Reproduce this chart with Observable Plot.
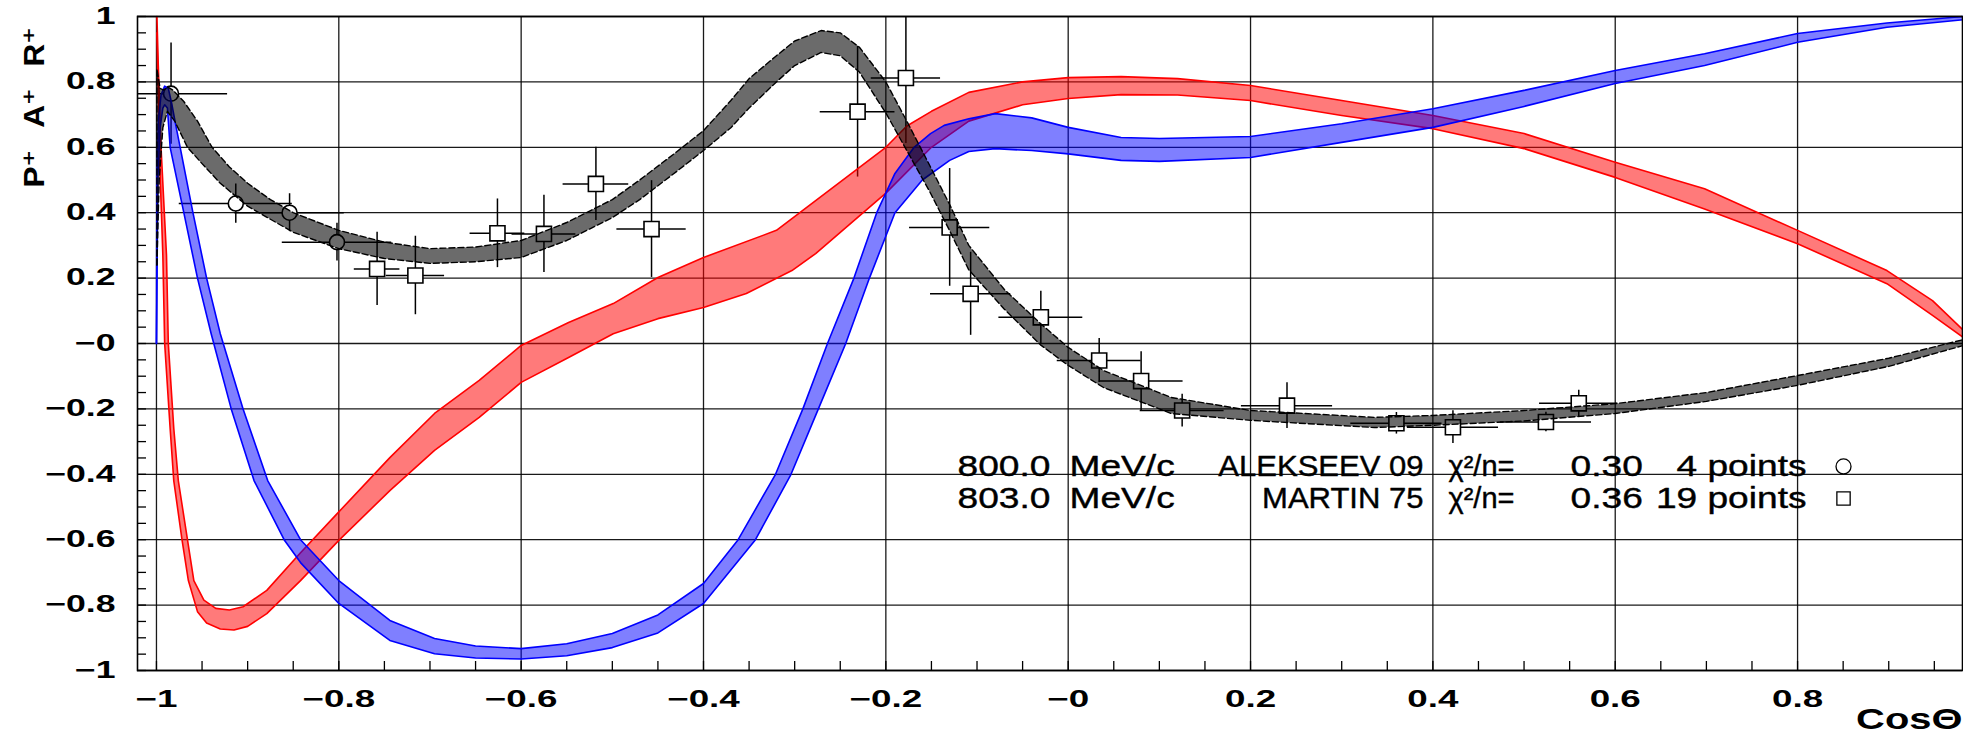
<!DOCTYPE html>
<html>
<head>
<meta charset="utf-8">
<script src="https://cdn.jsdelivr.net/npm/d3@7"></script>
<script src="https://cdn.jsdelivr.net/npm/@observablehq/plot@0.6"></script>
<style>
  html, body { margin: 0; padding: 0; background: #fff; }
  #chart svg { display: block; }
</style>
</head>
<body>
<div id="chart"></div>
<script>
// ---------- tick labels ----------
const xTicks = [-1, -0.8, -0.6, -0.4, -0.2, 0, 0.2, 0.4, 0.6, 0.8];
const xTickLabels = ["−1", "−0.8", "−0.6", "−0.4", "−0.2", "−0", "0.2", "0.4", "0.6", "0.8"];
const yTicks = [1, 0.8, 0.6, 0.4, 0.2, 0, -0.2, -0.4, -0.6, -0.8, -1];
const yTickLabels = ["1", "0.8", "0.6", "0.4", "0.2", "−0", "−0.2", "−0.4", "−0.6", "−0.8", "−1"];
const xTitle = "CosΘ";
const yTitle = "P⁺\u2002\u2009A⁺\u2002\u2009R⁺";

// ---------- data points: MARTIN 75 (squares) ----------
const sqX    = [-0.758, -0.716, -0.626, -0.575, -0.518, -0.457, -0.231, -0.178, -0.130, -0.107, -0.030, 0.034, 0.080, 0.125, 0.240, 0.360, 0.422, 0.524, 0.560];
const sqY    = [0.228, 0.208, 0.337, 0.335, 0.488, 0.350, 0.709, 0.812, 0.355, 0.152, 0.080, -0.052, -0.115, -0.205, -0.190, -0.244, -0.256, -0.240, -0.183];
const sqXErr = [0.025, 0.032, 0.030, 0.035, 0.036, 0.038, 0.041, 0.038, 0.044, 0.044, 0.046, 0.046, 0.046, 0.046, 0.050, 0.050, 0.050, 0.050, 0.043];
const sqYErr = [0.112, 0.120, 0.105, 0.118, 0.112, 0.148, 0.200, 0.200, 0.180, 0.127, 0.080, 0.067, 0.090, 0.050, 0.070, 0.033, 0.050, 0.030, 0.040];

// ---------- data points: ALEKSEEV 09 (circles) ----------
const ciX    = [-0.984, -0.913, -0.854, -0.802];
const ciY    = [0.764, 0.428, 0.400, 0.310];
const ciXErr = [0.062, 0.062, 0.060, 0.060];
const ciYErr = [0.155, 0.060, 0.058, 0.058];

// ---------- bands (upper edge, lower edge) ----------
const redTop = [[-0.9995,1.0],[-0.998,0.85],[-0.995,0.6],[-0.989,0.27],[-0.987,0.0],[-0.981,-0.26],[-0.976,-0.42],[-0.966,-0.6],[-0.959,-0.725],[-0.948,-0.785],[-0.935,-0.81],[-0.92,-0.815],[-0.905,-0.805],[-0.879,-0.755],[-0.842,-0.64],[-0.8,-0.515],[-0.744,-0.349],[-0.695,-0.214],[-0.646,-0.113],[-0.6,-0.006],[-0.548,0.064],[-0.499,0.122],[-0.45,0.202],[-0.4,0.263],[-0.32,0.346],[-0.277,0.437],[-0.2,0.6],[-0.177,0.665],[-0.15,0.71],[-0.109,0.768],[-0.05,0.80],[0,0.813],[0.058,0.816],[0.12,0.81],[0.2,0.789],[0.3,0.743],[0.4,0.697],[0.5,0.642],[0.6,0.554],[0.698,0.473],[0.8,0.346],[0.898,0.223],[0.948,0.131],[0.982,0.04]];
const redBottom = [[-0.9995,0.95],[-0.997,0.6],[-0.993,0.27],[-0.991,0.0],[-0.985,-0.26],[-0.981,-0.42],[-0.972,-0.6],[-0.965,-0.725],[-0.955,-0.82],[-0.945,-0.855],[-0.93,-0.873],[-0.915,-0.876],[-0.9,-0.865],[-0.879,-0.826],[-0.842,-0.725],[-0.8,-0.602],[-0.744,-0.45],[-0.695,-0.327],[-0.646,-0.226],[-0.6,-0.119],[-0.548,-0.043],[-0.499,0.03],[-0.45,0.076],[-0.4,0.110],[-0.353,0.153],[-0.303,0.223],[-0.277,0.275],[-0.2,0.46],[-0.15,0.6],[-0.109,0.68],[-0.05,0.73],[0,0.749],[0.058,0.761],[0.12,0.76],[0.2,0.743],[0.3,0.697],[0.4,0.657],[0.5,0.596],[0.6,0.508],[0.698,0.411],[0.8,0.305],[0.898,0.183],[0.948,0.086],[0.982,0.018]];

const blueTop = [[-1.0,0.0],[-0.9995,0.5],[-0.998,0.68],[-0.995,0.76],[-0.991,0.787],[-0.987,0.78],[-0.983,0.73],[-0.979,0.67],[-0.974,0.6],[-0.96,0.4],[-0.945,0.2],[-0.93,0.03],[-0.905,-0.2],[-0.878,-0.419],[-0.842,-0.6],[-0.8,-0.725],[-0.744,-0.847],[-0.695,-0.902],[-0.65,-0.925],[-0.6,-0.933],[-0.55,-0.918],[-0.5,-0.887],[-0.45,-0.83],[-0.4,-0.734],[-0.362,-0.6],[-0.321,-0.4],[-0.291,-0.2],[-0.264,0],[-0.235,0.2],[-0.21,0.4],[-0.19,0.52],[-0.169,0.6],[-0.151,0.642],[-0.136,0.667],[-0.109,0.687],[-0.08,0.703],[-0.04,0.69],[0,0.661],[0.058,0.63],[0.1,0.627],[0.2,0.633],[0.3,0.672],[0.4,0.718],[0.5,0.774],[0.6,0.835],[0.698,0.886],[0.8,0.948],[0.898,0.98],[0.982,1.0]];
const blueBottom = [[-1.0,0.0],[-0.9985,0.5],[-0.996,0.66],[-0.993,0.72],[-0.991,0.73],[-0.988,0.72],[-0.985,0.6],[-0.97,0.4],[-0.955,0.2],[-0.94,0.03],[-0.918,-0.2],[-0.893,-0.419],[-0.86,-0.6],[-0.842,-0.67],[-0.8,-0.795],[-0.744,-0.908],[-0.695,-0.949],[-0.65,-0.962],[-0.6,-0.965],[-0.55,-0.955],[-0.5,-0.93],[-0.45,-0.885],[-0.4,-0.795],[-0.343,-0.6],[-0.304,-0.4],[-0.274,-0.2],[-0.244,0],[-0.218,0.2],[-0.19,0.4],[-0.16,0.5],[-0.13,0.56],[-0.109,0.587],[-0.08,0.596],[-0.04,0.59],[0,0.58],[0.058,0.56],[0.1,0.557],[0.2,0.569],[0.3,0.615],[0.4,0.661],[0.5,0.725],[0.6,0.795],[0.698,0.85],[0.8,0.921],[0.898,0.967],[0.982,0.99]];

const blackTop = [[-0.9995,0.24],[-0.9995,0.84],[-0.996,0.78],[-0.992,0.775],[-0.988,0.785],[-0.982,0.775],[-0.97,0.74],[-0.955,0.68],[-0.939,0.6],[-0.92,0.54],[-0.9,0.49],[-0.875,0.44],[-0.85,0.40],[-0.8,0.346],[-0.75,0.31],[-0.7,0.29],[-0.65,0.295],[-0.6,0.315],[-0.55,0.37],[-0.525,0.405],[-0.5,0.44],[-0.47,0.50],[-0.43,0.585],[-0.4,0.651],[-0.37,0.743],[-0.35,0.81],[-0.32,0.88],[-0.3,0.925],[-0.271,0.957],[-0.25,0.95],[-0.229,0.906],[-0.2,0.80],[-0.177,0.68],[-0.152,0.545],[-0.13,0.425],[-0.109,0.30],[-0.07,0.165],[-0.03,0.06],[0,-0.012],[0.039,-0.083],[0.113,-0.165],[0.2,-0.205],[0.336,-0.226],[0.4,-0.22],[0.5,-0.205],[0.6,-0.184],[0.7,-0.15],[0.8,-0.098],[0.9,-0.045],[0.982,0.012]];
const blackBottom = [[-0.9995,0.24],[-0.997,0.5],[-0.993,0.66],[-0.988,0.71],[-0.98,0.68],[-0.966,0.6],[-0.95,0.55],[-0.93,0.49],[-0.9,0.42],[-0.875,0.38],[-0.85,0.34],[-0.8,0.29],[-0.75,0.26],[-0.7,0.245],[-0.65,0.25],[-0.6,0.263],[-0.55,0.315],[-0.525,0.35],[-0.5,0.385],[-0.47,0.44],[-0.43,0.525],[-0.4,0.59],[-0.37,0.66],[-0.35,0.72],[-0.32,0.80],[-0.3,0.85],[-0.271,0.89],[-0.25,0.88],[-0.229,0.83],[-0.2,0.705],[-0.177,0.59],[-0.152,0.465],[-0.13,0.345],[-0.109,0.225],[-0.07,0.105],[-0.03,-0.005],[0,-0.067],[0.039,-0.135],[0.113,-0.214],[0.2,-0.235],[0.336,-0.257],[0.4,-0.25],[0.5,-0.237],[0.6,-0.214],[0.7,-0.177],[0.8,-0.128],[0.9,-0.07],[0.982,-0.006]];

// ---------- legend ----------
const legendEnergy = ["800.0", "803.0"];
const legendUnit = ["MeV/c", "MeV/c"];
const legendExp = ["ALEKSEEV 09", "MARTIN 75"];
const legendChiLabel = ["χ²/n=", "χ²/n="];
const legendChi = ["0.30", "0.36"];
const legendPoints = ["4 points", "19 points"];
const legendSymbol = ["circle", "square"];
const legendRowY = [-0.376, -0.474];

// ---------- build tables ----------
const squares = sqX.map((x, i) => ({x, y: sqY[i], xe: sqXErr[i], ye: sqYErr[i]}));
const circles = ciX.map((x, i) => ({x, y: ciY[i], xe: ciXErr[i], ye: ciYErr[i]}));
const points = circles.concat(squares);
const polygon = (top, bottom) => top.concat(bottom.slice().reverse());
const legendRows = legendEnergy.map((e, i) => ({
  energy: e, unit: legendUnit[i], exp: legendExp[i], chiLabel: legendChiLabel[i],
  chi: legendChi[i], pts: legendPoints[i], symbol: legendSymbol[i], y: legendRowY[i]
}));
const xLabelMap = new Map(xTicks.map((v, i) => [v, xTickLabels[i]]));
const yLabelMap = new Map(yTicks.map((v, i) => [v, yTickLabels[i]]));
const xMinor = d3.range(-20, 20).map(i => i / 20);
const yMinor = d3.range(-20, 21).map(i => i / 20);

const W = 1963, H = 736, ML = 137, MT = 16, MR = 1, MB = 66;
const font = "Liberation Sans, Arial, Helvetica, sans-serif";
const legendStyle = {fontSize: 29, fill: "black", stroke: "black", strokeWidth: 0.4};

const chart = Plot.plot({
  width: W, height: H,
  marginLeft: ML, marginTop: MT, marginRight: MR, marginBottom: MB,
  style: {fontFamily: font, background: "white", color: "black"},
  x: {domain: [-1.0208, 0.9809]},
  y: {domain: [-1, 1]},
  marks: [
    Plot.gridX({ticks: xTicks, stroke: "black", strokeOpacity: 0.9, strokeWidth: 1.3}),
    Plot.gridY({ticks: yTicks, stroke: "black", strokeOpacity: 0.9, strokeWidth: 1.3}),
    Plot.ruleX(xMinor, {x: d => d, insetTop: H - MT - MB - 9, stroke: "black", strokeWidth: 1.3}),
    Plot.ruleY(yMinor, {y: d => d, insetRight: W - ML - MR - 9, stroke: "black", strokeWidth: 1.3}),
    // error bars
    Plot.ruleX(points, {x: "x", y1: d => d.y - d.ye, y2: d => d.y + d.ye, stroke: "black", strokeWidth: 1.5, clip: true}),
    Plot.ruleY(points, {y: "y", x1: d => d.x - d.xe, x2: d => d.x + d.xe, stroke: "black", strokeWidth: 1.5, clip: true}),
    Plot.dot(squares, {x: "x", y: "y", symbol: "square", r: 8.5, fill: "white", stroke: "black", strokeWidth: 1.6}),
    Plot.dot(circles, {x: "x", y: "y", symbol: "circle", r: 7.5, fill: "white", stroke: "black", strokeWidth: 1.6}),
    // red band
    Plot.line(polygon(redTop, redBottom), {fill: "#ff0000", fillOpacity: 0.52, stroke: "none"}),
    Plot.line(redTop, {stroke: "#ff0000", strokeWidth: 1.6}),
    Plot.line(redBottom, {stroke: "#ff0000", strokeWidth: 1.6}),
    // blue band
    Plot.line(polygon(blueTop, blueBottom), {fill: "#0000ff", fillOpacity: 0.5, stroke: "none"}),
    Plot.line(blueTop, {stroke: "#0000ff", strokeWidth: 1.6}),
    Plot.line(blueBottom, {stroke: "#0000ff", strokeWidth: 1.6}),
    // black band
    Plot.line(polygon(blackTop, blackBottom), {fill: "#000", fillOpacity: 0.58, stroke: "none"}),
    Plot.line(blackTop, {stroke: "#000", strokeWidth: 1.4, strokeDasharray: "6,3"}),
    Plot.line(blackBottom, {stroke: "#000", strokeWidth: 1.4, strokeDasharray: "6,3"}),
    Plot.frame({stroke: "black", strokeWidth: 1.6}),
    // axes
    Plot.axisX({ticks: xTicks, tickSize: 0, tickPadding: 20, tickFormat: d => xLabelMap.get(d), fontSize: 23, fontWeight: "bold", label: null}),
    Plot.axisY({ticks: yTicks, tickSize: 0, tickPadding: 22, tickFormat: d => yLabelMap.get(d), fontSize: 23, fontWeight: "bold", label: null}),
    Plot.text([xTitle], {text: d => d, frameAnchor: "bottom-right", dy: 58, textAnchor: "end", lineAnchor: "bottom", fontSize: 30, fontWeight: "bold", ariaDescription: "axis-title"}),
    Plot.text([yTitle], {text: d => d, frameAnchor: "top-left", dx: 43 - ML, dy: 187 - MT, rotate: -90, textAnchor: "start", lineAnchor: "bottom", fontSize: 30, fontWeight: "bold", fontFamily: "Liberation Sans, DejaVu Sans, sans-serif", ariaDescription: "y-title"}),
    // legend
    Plot.text(legendRows, {x: -0.1214, y: "y", text: "energy", textAnchor: "start", ...legendStyle, ariaDescription: "legend-num"}),
    Plot.text(legendRows, {x: 0.0015, y: "y", text: "unit", textAnchor: "start", ...legendStyle, ariaDescription: "legend-num"}),
    Plot.text(legendRows, {x: 0.3897, y: "y", text: "exp", textAnchor: "end", ...legendStyle, ariaDescription: "legend-cap"}),
    Plot.text(legendRows, {x: 0.4171, y: "y", text: "chiLabel", textAnchor: "start", ...legendStyle, ariaDescription: "legend-chi"}),
    Plot.text(legendRows, {x: 0.551, y: "y", text: "chi", textAnchor: "start", ...legendStyle, ariaDescription: "legend-num"}),
    Plot.text(legendRows, {x: 0.8098, y: "y", text: "pts", textAnchor: "end", ...legendStyle, ariaDescription: "legend-num"}),
    Plot.dot(legendRows, {x: 0.8504, y: "y", symbol: "symbol", r: 7.5, fill: "white", stroke: "black", strokeWidth: 1.3})
  ]
});

// horizontal stretch of glyphs (wide ROOT fonts)
const scaleRules = [
  ["g[aria-label='x-axis tick label'] text", 1.6],
  ["g[aria-label='y-axis tick label'] text", 1.55],
  ["g[aria-description='legend-num'] text", 1.28],
  ["g[aria-description='legend-cap'] text", 1.07],
  ["g[aria-description='legend-chi'] text", 1.0],
  ["g[aria-description='axis-title'] text", 1.33],
  ["g[aria-description='y-title'] text", 1.05]
];
for (const [sel, s] of scaleRules) {
  chart.querySelectorAll(sel).forEach(t => {
    t.setAttribute("transform", (t.getAttribute("transform") || "") + ` scale(${s},1)`);
  });
}
document.getElementById("chart").append(chart);
</script>
</body>
</html>
